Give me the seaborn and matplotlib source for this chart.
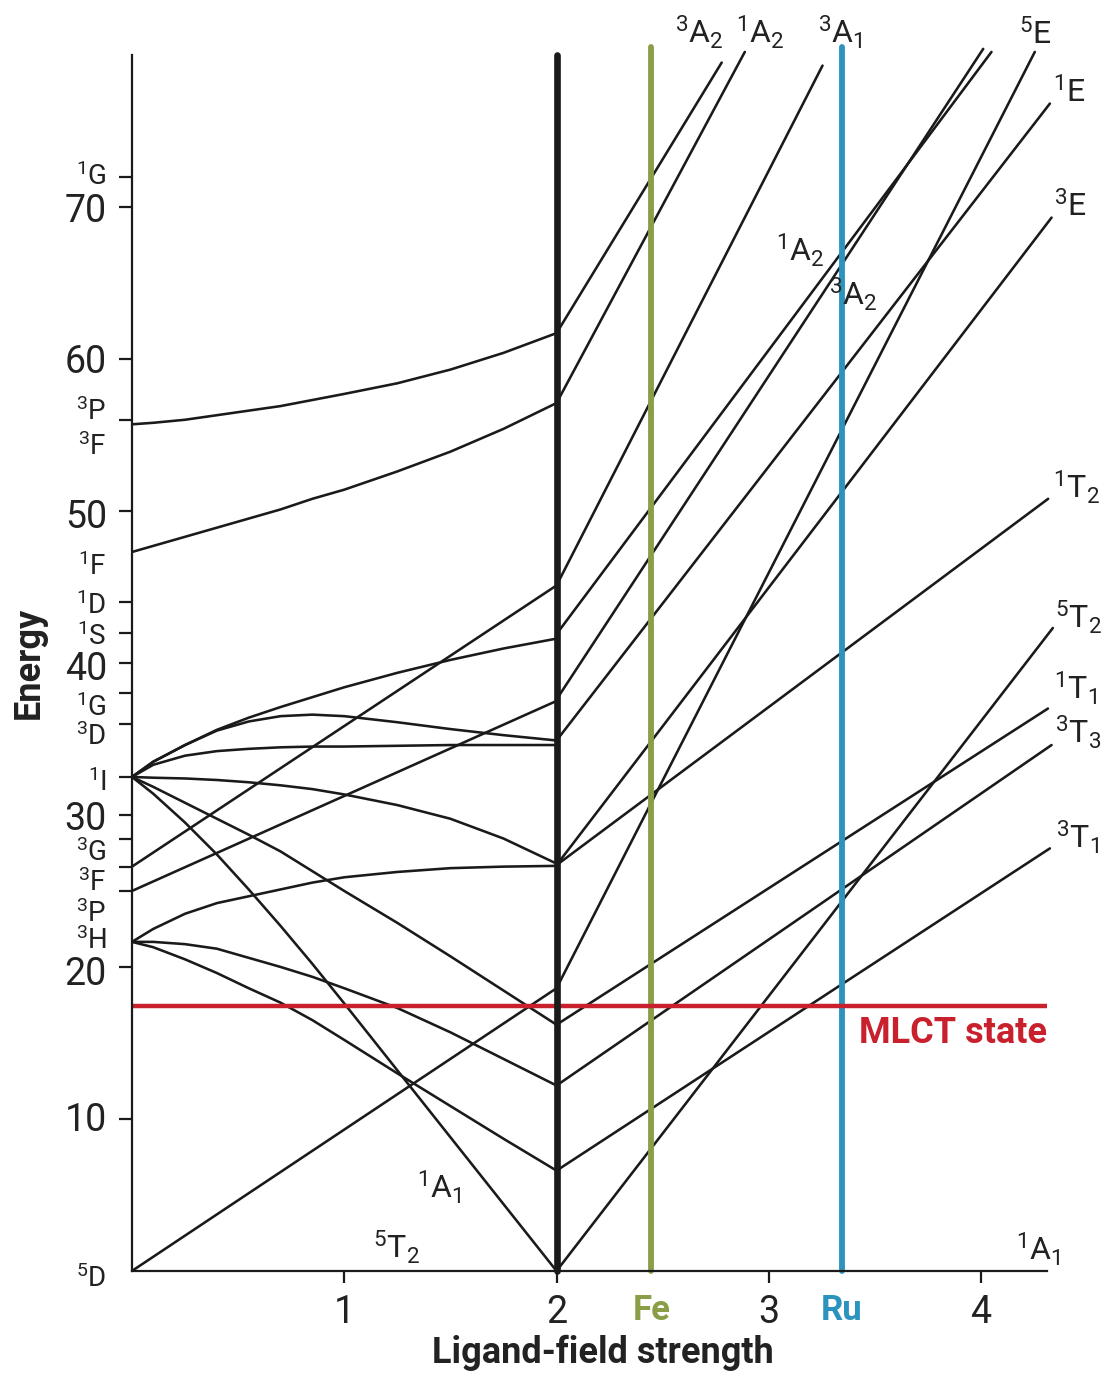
import matplotlib
matplotlib.use("Agg")
import matplotlib.pyplot as plt
import seaborn as sns
from matplotlib import font_manager as fm

# ---------------- data ----------------
x_left = [0, 0.1, 0.25, 0.4, 0.55, 0.7, 0.85, 1.0, 1.25, 1.5, 1.75, 2.0]

curve_3P_up = [55.7, 55.8, 56.0, 56.3, 56.6, 56.9, 57.3, 57.7, 58.4, 59.3, 60.4, 61.7]
curve_1F_up = [47.3, 47.7, 48.3, 48.9, 49.5, 50.1, 50.8, 51.4, 52.6, 53.9, 55.4, 57.1]
curve_1I_top = [32.5, 33.5, 34.6, 35.6, 36.4, 37.1, 37.75, 38.4, 39.35, 40.2, 40.95, 41.6]
curve_1I_hump = [32.5, 33.5, 34.6, 35.55, 36.15, 36.5, 36.6, 36.5, 36.1, 35.65, 35.25, 34.9]
curve_1I_flat = [32.5, 33.3, 33.9, 34.2, 34.35, 34.45, 34.5, 34.5, 34.55, 34.6, 34.6, 34.6]
curve_1I_down1 = [32.5, 32.45, 32.4, 32.3, 32.15, 31.95, 31.7, 31.35, 30.65, 29.75, 28.45, 26.8]
curve_1I_down2 = [32.5, 31.85, 30.8, 29.75, 28.7, 27.6, 26.3, 25.0, 22.9, 20.7, 18.45, 16.2]
curve_1A1 = [32.5, 31.4, 29.5, 27.4, 25.1, 22.7, 20.2, 17.6, 13.2, 8.8, 4.4, 0.0]
curve_3H_up = [21.65, 22.5, 23.5, 24.2, 24.65, 25.1, 25.55, 25.9, 26.25, 26.5, 26.6, 26.65]
curve_3H_mid = [21.65, 21.65, 21.5, 21.2, 20.6, 20.0, 19.35, 18.6, 17.3, 15.7, 13.95, 12.2]
curve_3H_low = [21.65, 21.3, 20.5, 19.6, 18.6, 17.65, 16.5, 15.2, 13.0, 10.85, 8.7, 6.6]

straight_x = [0, 2]
line_3F = [26.6, 45.1]
line_3P = [25.0, 37.5]
line_5T2 = [0.0, 18.6]

right_start_E = [61.7, 57.1, 45.1, 37.6, 41.9, 18.6, 34.9, 26.7, 26.7, 0.0, 16.2, 12.2, 6.6]
right_end_x = [2.778, 2.887, 3.253, 4.01, 4.049, 4.253, 4.324, 4.332, 4.316, 4.338, 4.315, 4.332, 4.324]
right_end_E = [79.5, 80.2, 79.3, 80.4, 80.2, 80.2, 76.8, 69.3, 50.8, 42.3, 37.0, 34.6, 27.8]

mlct_E = 17.4
fe_x = 2.447
ru_x = 3.344
crossover_x = 2.0

x_ticks = [1, 2, 3, 4]
x_ticklabels = ["1", "2", "3", "4"]
y_ticks = [72, 70, 60, 56, 50, 44, 42, 40, 38, 36, 32.5, 30, 28.4, 26.6, 25.0, 20, 10]

# left-hand labels: (label, baseline E)
left_numbers = [("70", 69.0), ("60", 59.1), ("50", 48.9), ("40", 38.9), ("30", 29.0),
                ("20", 18.8), ("10", 9.2)]
left_terms = [("1|G", 71.45), ("3|P", 56.0), ("3|F", 53.7), ("1|F", 45.8), ("1|D", 43.2),
              ("1|S", 41.2), ("1|G", 36.5), ("3|D", 34.6), ("1|I", 31.6), ("3|G", 26.95),
              ("3|F", 25.0), ("3|P", 22.95), ("3|H", 21.2), ("5|D", -1.05)]

# state labels: (label, center x, baseline E)
state_labels = [("3|A|2", 2.671, 80.8), ("1|A|2", 2.958, 80.8), ("3|A|1", 3.337, 80.8),
                ("5|E", 4.258, 80.7), ("1|E", 4.414, 76.9), ("3|E", 4.423, 69.4),
                ("1|A|2", 3.147, 66.4), ("3|A|2", 3.40, 63.55),
                ("1|T|2", 4.449, 50.8), ("5|T|2", 4.458, 42.3), ("1|T|1", 4.447, 37.6),
                ("3|T|3", 4.458, 34.7), ("3|T|1", 4.454, 27.8), ("1|A|1", 4.268, 0.72),
                ("1|A|1", 1.446, 4.78), ("5|T|2", 1.246, 0.83)]

# ---------------- style ----------------
sns.set_theme(style="white")


def pick(fams):
    for f in fams:
        try:
            fm.findfont(fm.FontProperties(family=f), fallback_to_default=False)
            return f
        except Exception:
            pass
    return "DejaVu Sans"


FONT = pick(["Liberation Sans Narrow", "Roboto", "Open Sans"])
plt.rcParams["font.family"] = [FONT, "DejaVu Sans"]
plt.rcParams["mathtext.fontset"] = "custom"
plt.rcParams["mathtext.rm"] = FONT
plt.rcParams["mathtext.it"] = FONT
plt.rcParams["mathtext.bf"] = FONT + ":bold"
plt.rcParams["mathtext.default"] = "rm"


def term(s):
    parts = s.split("|")
    if len(parts) == 1:
        return s
    out = r"$^{%s}$%s" % (parts[0], parts[1])
    if len(parts) == 3:
        out += r"$_{%s}$" % parts[2]
    return out


INK = "#1a1a1a"
TXT = "#222222"
GREEN = "#8A9E47"
BLUE = "#2B93BE"
RED = "#C9202E"

fig = plt.figure(figsize=(11.09, 13.74), dpi=100)
ax = fig.add_axes([0.119, 0.075, 0.825, 0.885])
ax.set_xlim(0, 4.31)
ax.set_ylim(0, 80)

lw = 1.85
left_curves = [curve_3P_up, curve_1F_up, curve_1I_top, curve_1I_hump, curve_1I_flat,
               curve_1I_down1, curve_1I_down2, curve_1A1, curve_3H_up, curve_3H_mid, curve_3H_low]
for ys in left_curves:
    sns.lineplot(x=x_left, y=ys, ax=ax, color=INK, linewidth=lw, sort=False, estimator=None)
for ys in [line_3F, line_3P, line_5T2]:
    sns.lineplot(x=straight_x, y=ys, ax=ax, color=INK, linewidth=lw, sort=False, estimator=None)
for s, ex, ee in zip(right_start_E, right_end_x, right_end_E):
    sns.lineplot(x=[crossover_x, ex], y=[s, ee], ax=ax, color=INK, linewidth=lw,
                 sort=False, estimator=None, clip_on=False)

sns.lineplot(x=[0, 4.31], y=[mlct_E, mlct_E], ax=ax, color=RED, linewidth=3.2,
             sort=False, estimator=None, zorder=4)
sns.lineplot(x=[fe_x, fe_x], y=[0, 80.5], ax=ax, color=GREEN, linewidth=4.2,
             sort=False, estimator=None, clip_on=False, zorder=3)
sns.lineplot(x=[ru_x, ru_x], y=[0, 80.5], ax=ax, color=BLUE, linewidth=4.2,
             sort=False, estimator=None, clip_on=False, zorder=3)
sns.lineplot(x=[crossover_x, crossover_x], y=[0, 80], ax=ax, color=INK, linewidth=4.8,
             sort=False, estimator=None, clip_on=False, zorder=5)

for sp in ["top", "right"]:
    ax.spines[sp].set_visible(False)
for sp in ["left", "bottom"]:
    ax.spines[sp].set_linewidth(1.6)
    ax.spines[sp].set_color(INK)
    ax.spines[sp].set_zorder(6)

ax.set_xticks(x_ticks)
ax.set_xticklabels(x_ticklabels)
ax.set_yticks(y_ticks)
ax.set_yticklabels([""] * len(y_ticks))
ax.tick_params(axis="both", which="major", direction="out", width=1.6, color=INK,
               left=True, bottom=True, labelcolor=TXT)
ax.tick_params(axis="y", length=9.5)
ax.tick_params(axis="x", length=8.5, labelsize=27, pad=8)
ax.grid(False)

lab_x = -0.118
for lab, e in left_numbers:
    ax.text(lab_x, e, lab, ha="right", va="baseline", fontsize=27, color=TXT, clip_on=False)
for lab, e in left_terms:
    ax.text(lab_x, e, term(lab), ha="right", va="baseline", fontsize=20, color=TXT,
            clip_on=False)

for lab, x, e in state_labels:
    ax.text(x, e, term(lab), ha="center", va="baseline", fontsize=23, color=TXT,
            clip_on=False)

ax.text(fe_x, -3.2, "Fe", ha="center", va="baseline", fontsize=25, fontweight="bold",
        color=GREEN, clip_on=False)
ax.text(ru_x, -3.2, "Ru", ha="center", va="baseline", fontsize=25, fontweight="bold",
        color=BLUE, clip_on=False)
ax.text(4.31, 15.0, "MLCT state", ha="right", va="baseline", fontsize=26, fontweight="bold",
        color=RED)
ax.text(2.216, -6.05, "Ligand-field strength", ha="center", va="baseline", fontsize=26,
        fontweight="bold", color=TXT, clip_on=False)
ax.text(-0.485, 40, "Energy", ha="center", va="center", rotation=90, fontsize=26,
        fontweight="bold", color=TXT, clip_on=False)

fig.savefig("out.png", dpi=100, facecolor="white")
